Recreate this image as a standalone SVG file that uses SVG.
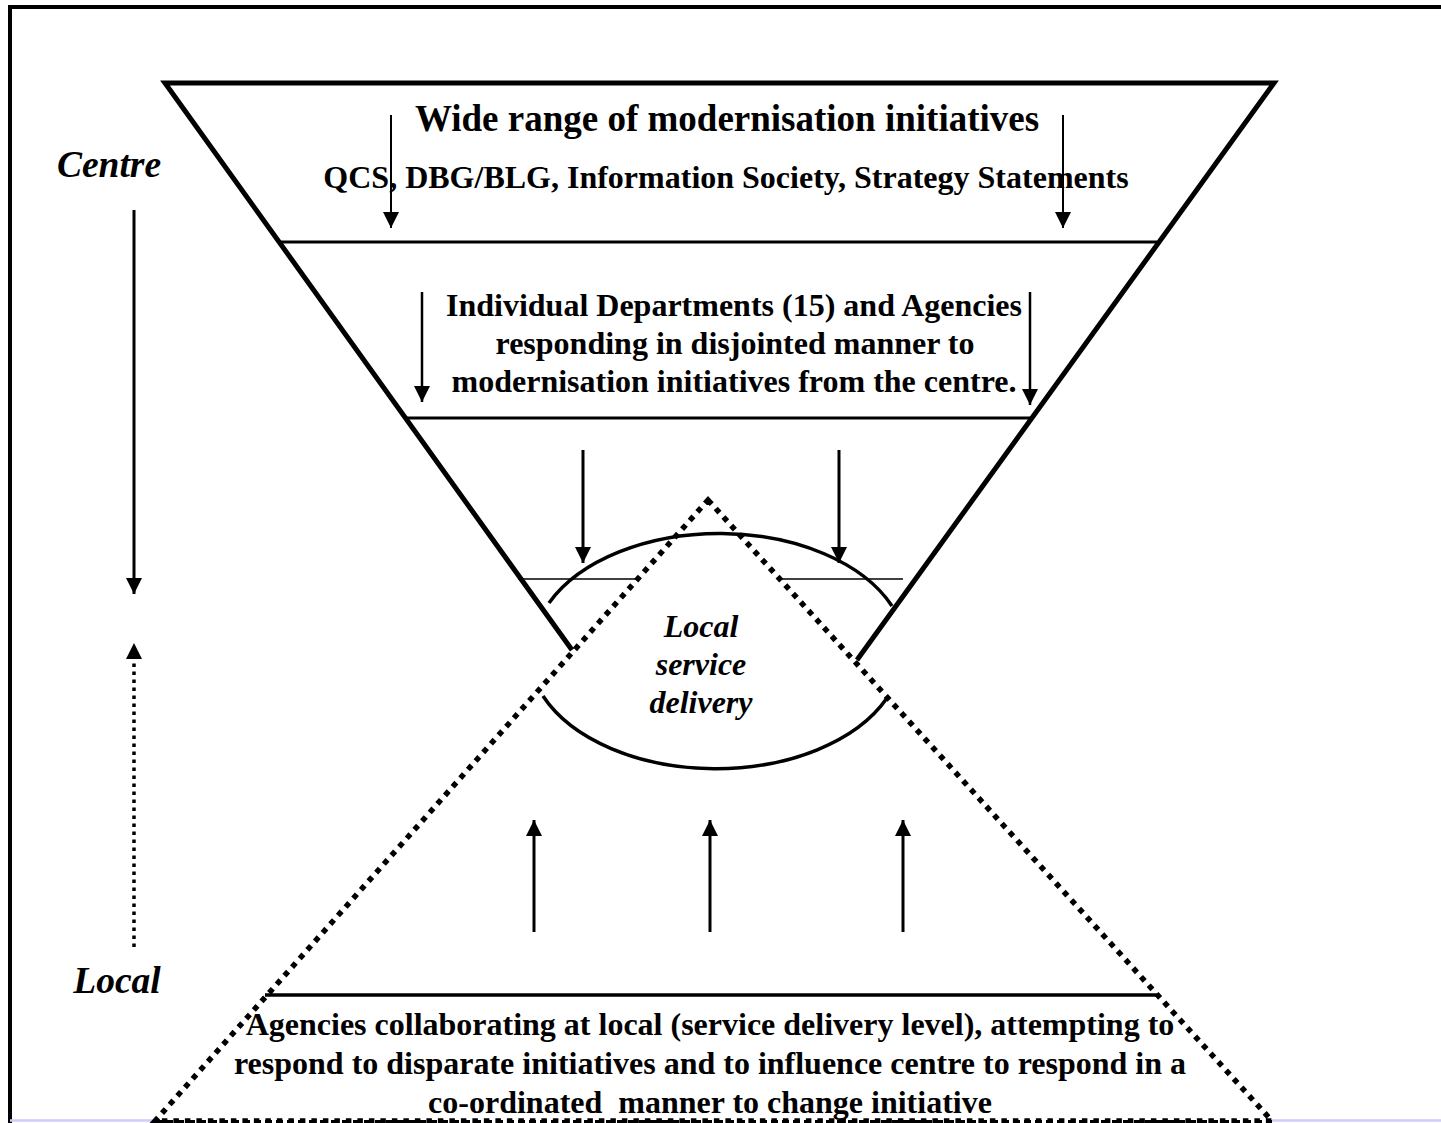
<svg xmlns="http://www.w3.org/2000/svg" width="1441" height="1123" viewBox="0 0 1441 1123">
<defs>
<style>
.t{font-family:"Liberation Serif","Times New Roman",serif;font-weight:bold;fill:#000;text-anchor:middle}
.i{font-style:italic}
.ln{stroke:#000;fill:none}
</style>
<marker id="ah" viewBox="0 0 16 16" refX="16" refY="8" markerWidth="16" markerHeight="16" markerUnits="userSpaceOnUse" orient="auto">
<path d="M0,0 L16,8 L0,16 z" fill="#000"/>
</marker>
</defs>
<rect width="1441" height="1123" fill="#fff"/>
<g id="frame">
<path d="M10,1123 L10,7 L1441,7" class="ln" stroke-width="4"/>
<path d="M10,1120.5 L155,1120.5 M1272,1120.5 L1441,1120.5" stroke="#ccccff" stroke-width="2.5"/>
</g>
<g id="funnel">
<path d="M572,650 L165,83 L1274,83 L857,660" class="ln" stroke-width="5" stroke-linejoin="miter"/>
<line x1="281" y1="242" x2="1157" y2="242" class="ln" stroke-width="3"/>
<line x1="407" y1="418" x2="1032" y2="418" class="ln" stroke-width="3"/>
<line x1="518" y1="579" x2="903" y2="579" class="ln" stroke-width="1.6"/>
</g>
<g id="level1">
<text class="t" x="727" y="131" font-size="37">Wide range of modernisation initiatives</text>
<text class="t" x="726" y="188" font-size="32">QCS, DBG/BLG, Information Society, Strategy Statements</text>
</g>
<g id="level2">
<text class="t" x="734" y="316" font-size="32">Individual Departments (15) and Agencies</text>
<text class="t" x="735" y="354" font-size="32">responding in disjointed manner to</text>
<text class="t" x="734" y="392" font-size="32">modernisation initiatives from the centre.</text>
</g>
<g id="local-triangle">
<path d="M708,500 L1272,1121 L155,1121 z" fill="#fff" stroke="#000" stroke-width="5.5" stroke-dasharray="5.5 6"/>
<line x1="155" y1="1121.5" x2="1272" y2="1121.5" stroke="#000" stroke-width="3" stroke-dasharray="7 4"/>
</g>
<g id="local-service-delivery">
<path d="M549,603 A187,118 0 0 1 892,606" class="ln" stroke-width="3.5"/>
<path d="M543,696 A187,118 0 0 0 887,698" class="ln" stroke-width="3.5"/>
<text class="t i" x="701" y="637" font-size="32">Local</text>
<text class="t i" x="701" y="675" font-size="32">service</text>
<text class="t i" x="701" y="713" font-size="32">delivery</text>
</g>
<g id="level-local">
<line x1="265" y1="995" x2="1157" y2="995" class="ln" stroke-width="3.5"/>
<text class="t" x="710" y="1035" font-size="32">Agencies collaborating at local (service delivery level), attempting to</text>
<text class="t" x="710" y="1074" font-size="32">respond to disparate initiatives and to influence centre to respond in a</text>
<text class="t" x="710" y="1113" font-size="32" xml:space="preserve">co-ordinated  manner to change initiative</text>
</g>
<g id="axis-labels">
<text class="t i" x="109" y="177" font-size="37.5">Centre</text>
<text class="t i" x="117" y="993" font-size="37.5">Local</text>
</g>
<g id="connectors">
<line x1="391" y1="115" x2="391" y2="228" class="ln" stroke-width="2" marker-end="url(#ah)"/>
<line x1="1063" y1="115" x2="1063" y2="228" class="ln" stroke-width="2" marker-end="url(#ah)"/>
<line x1="422" y1="292" x2="422" y2="402" class="ln" stroke-width="2.5" marker-end="url(#ah)"/>
<line x1="1030" y1="292" x2="1030" y2="405" class="ln" stroke-width="2.5" marker-end="url(#ah)"/>
<line x1="583" y1="450" x2="583" y2="563" class="ln" stroke-width="3" marker-end="url(#ah)"/>
<line x1="839" y1="450" x2="839" y2="563" class="ln" stroke-width="3" marker-end="url(#ah)"/>
<line x1="534" y1="932" x2="534" y2="820" class="ln" stroke-width="3" marker-end="url(#ah)"/>
<line x1="710" y1="932" x2="710" y2="820" class="ln" stroke-width="3" marker-end="url(#ah)"/>
<line x1="903" y1="932" x2="903" y2="820" class="ln" stroke-width="3" marker-end="url(#ah)"/>
<line x1="134" y1="210" x2="134" y2="594" class="ln" stroke-width="3" marker-end="url(#ah)"/>
<line x1="134" y1="947" x2="134" y2="643" class="ln" stroke-width="3.5" stroke-dasharray="3.5 4.5" marker-end="url(#ah)"/>
</g>
</svg>
